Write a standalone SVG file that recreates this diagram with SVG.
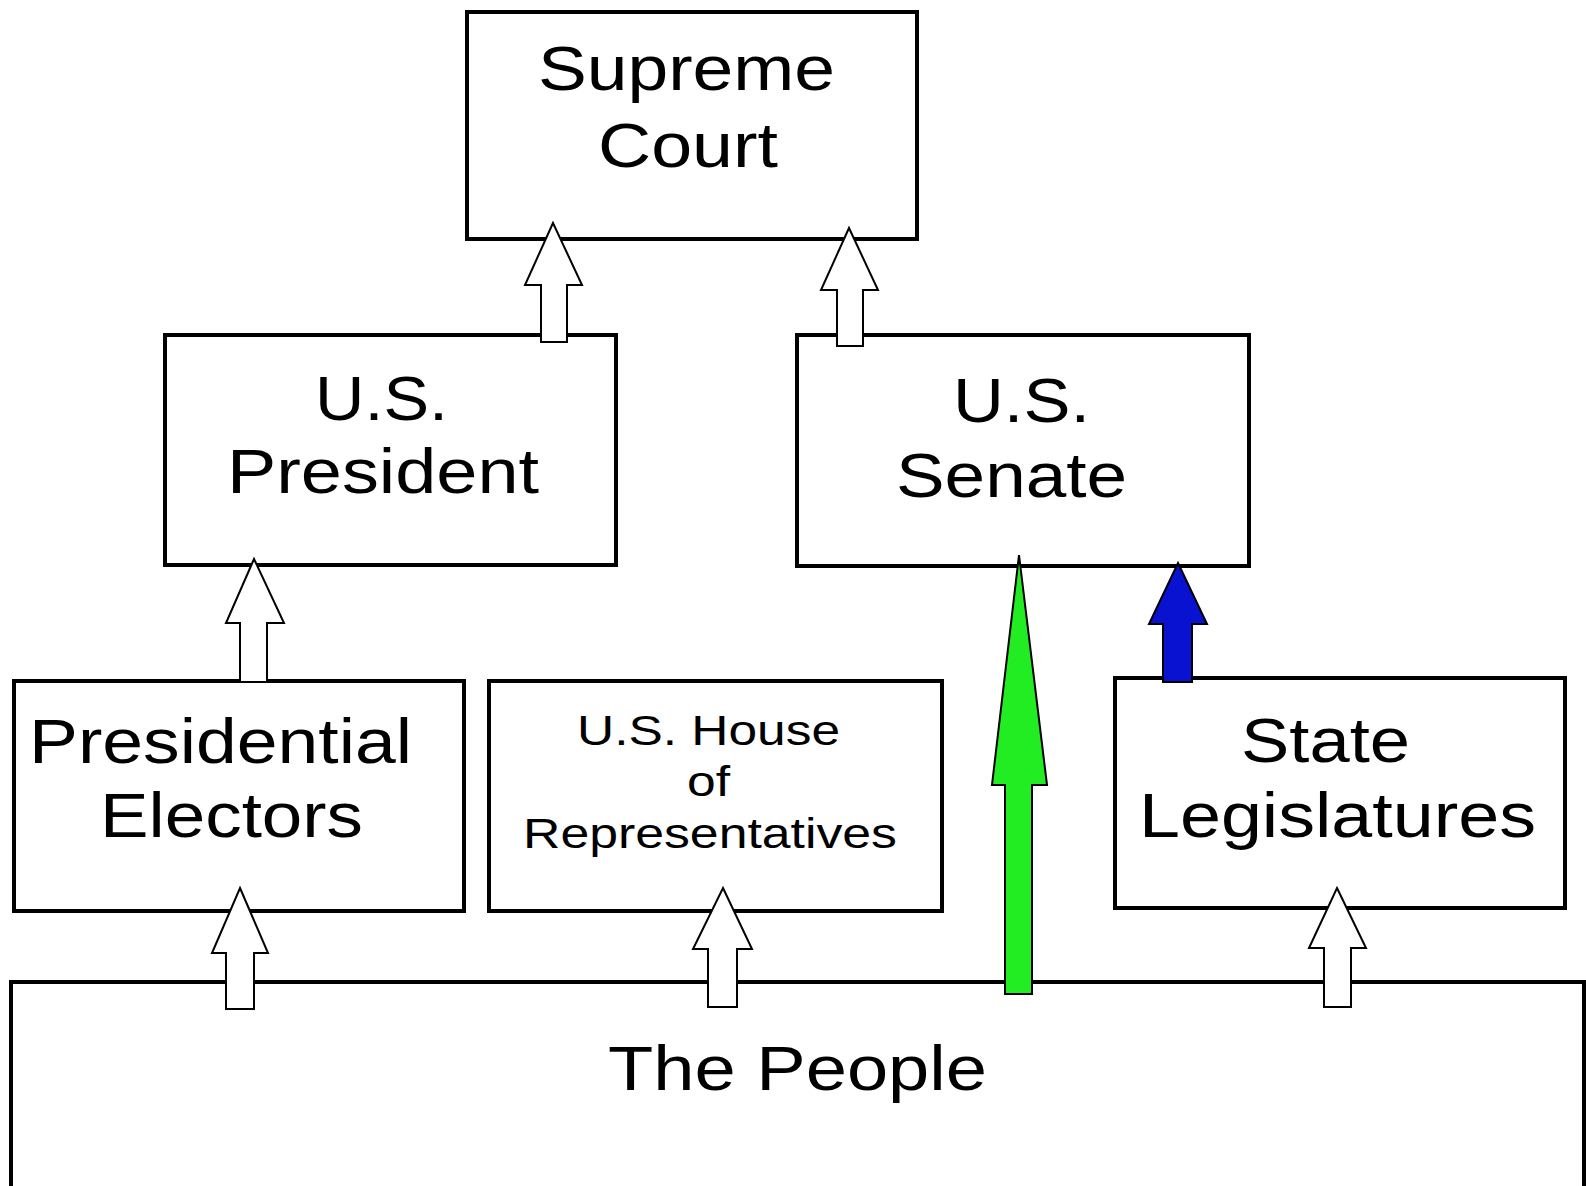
<svg xmlns="http://www.w3.org/2000/svg" width="1586" height="1186" viewBox="0 0 1586 1186">
<style>
.box{fill:#fff;stroke:#000;stroke-width:4}
.lbl{font-family:"Liberation Sans",Arial,sans-serif;font-size:63px;fill:#000}
.sm{font-size:42px}
.arr{stroke:#000;stroke-width:2;stroke-linejoin:miter}
.hollow{fill:#fff}
.green{fill:#22ec22}
.blue{fill:#0a12d2}
</style>
<rect width="1586" height="1186" fill="#fff"/>
<g id="node-people">
<rect class="box" x="11" y="982" width="1573" height="230"/>
<text class="lbl" x="608" y="1090" textLength="379" lengthAdjust="spacingAndGlyphs">The People</text>
</g>
<g id="node-supreme-court">
<rect class="box" x="467" y="12" width="450" height="227"/>
<text class="lbl" x="538" y="90" textLength="297" lengthAdjust="spacingAndGlyphs">Supreme</text>
<text class="lbl" x="598" y="167" textLength="180" lengthAdjust="spacingAndGlyphs">Court</text>
</g>
<g id="node-president">
<rect class="box" x="165" y="335" width="451" height="230"/>
<text class="lbl" x="315" y="420" textLength="133" lengthAdjust="spacingAndGlyphs">U.S.</text>
<text class="lbl" x="227" y="493" textLength="312" lengthAdjust="spacingAndGlyphs">President</text>
</g>
<g id="node-senate">
<rect class="box" x="797" y="335" width="452" height="231"/>
<text class="lbl" x="953" y="422" textLength="137" lengthAdjust="spacingAndGlyphs">U.S.</text>
<text class="lbl" x="896" y="497" textLength="231" lengthAdjust="spacingAndGlyphs">Senate</text>
</g>
<g id="node-electors">
<rect class="box" x="14" y="681" width="450" height="230"/>
<text class="lbl" x="29" y="763" textLength="383" lengthAdjust="spacingAndGlyphs">Presidential</text>
<text class="lbl" x="100" y="837" textLength="263" lengthAdjust="spacingAndGlyphs">Electors</text>
</g>
<g id="node-house">
<rect class="box" x="489" y="681" width="453" height="230"/>
<text class="lbl sm" x="577" y="745" textLength="263" lengthAdjust="spacingAndGlyphs">U.S. House</text>
<text class="lbl sm" x="687" y="796" textLength="43" lengthAdjust="spacingAndGlyphs">of</text>
<text class="lbl sm" x="523" y="848" textLength="374" lengthAdjust="spacingAndGlyphs">Representatives</text>
</g>
<g id="node-state-legislatures">
<rect class="box" x="1115" y="678" width="450" height="230"/>
<text class="lbl" x="1241" y="762" textLength="169" lengthAdjust="spacingAndGlyphs">State</text>
<text class="lbl" x="1139" y="837" textLength="397" lengthAdjust="spacingAndGlyphs">Legislatures</text>
</g>
<g id="connectors">
<polygon class="arr hollow" points="553,223 582,285 567,285 567,342 541,342 541,285 525,285"/>
<polygon class="arr hollow" points="849,228 878,290 863,290 863,346 837,346 837,290 821,290"/>
<polygon class="arr hollow" points="254,559 284,623 267,623 267,682 240,682 240,623 226,623"/>
<polygon class="arr hollow" points="240,888 268,953 254,953 254,1009 226,1009 226,953 212,953"/>
<polygon class="arr hollow" points="723,888 752,949 737,949 737,1007 708,1007 708,949 693,949"/>
<polygon class="arr hollow" points="1337,888 1366,948 1351,948 1351,1007 1324,1007 1324,948 1309,948"/>
<polygon class="arr green" points="1019,555 1047,785 1032,785 1032,994 1005,994 1005,785 992,785"/>
<polygon class="arr blue" points="1178,563 1207,624 1192,624 1192,682 1163,682 1163,624 1149,624"/>
</g>
</svg>
